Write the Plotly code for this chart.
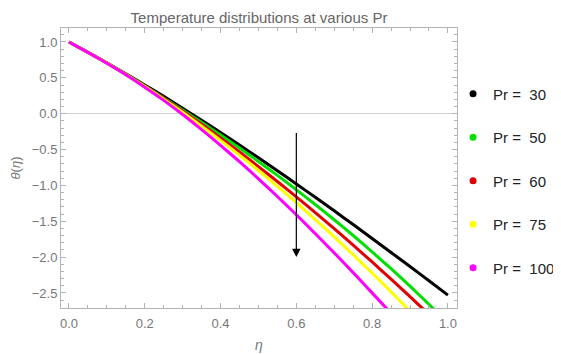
import plotly.graph_objects as go

eta = [0.0, 0.05, 0.1, 0.15, 0.2, 0.25, 0.3, 0.35, 0.4, 0.45, 0.5,
       0.55, 0.6, 0.65, 0.7, 0.75, 0.8, 0.85, 0.9, 0.95, 1.0]
pr_labels = ["Pr = \u00a030", "Pr = \u00a050", "Pr = \u00a060", "Pr = \u00a075", "Pr = \u00a0100"]
colors = ["#000000", "#00e000", "#e00000", "#ffff00", "#ff00ff"]
theta_pr30 = [1.0, 0.857, 0.710, 0.557, 0.401, 0.241, 0.077, -0.091, -0.263, -0.438, -0.615,
              -0.796, -0.980, -1.166, -1.355, -1.546, -1.740, -1.935, -2.132, -2.330, -2.530]
theta_pr50 = [1.0, 0.856, 0.706, 0.548, 0.390, 0.218, 0.051, -0.121, -0.298, -0.480, -0.667,
              -0.860, -1.060, -1.266, -1.479, -1.699, -1.927, -2.162, -2.406, -2.659, -2.920]
theta_pr60 = [1.0, 0.856, 0.706, 0.549, 0.385, 0.214, 0.036, -0.148, -0.338, -0.535, -0.738,
              -0.946, -1.160, -1.379, -1.604, -1.834, -2.068, -2.308, -2.552, -2.800, -3.052]
theta_pr75 = [1.0, 0.856, 0.705, 0.546, 0.378, 0.202, 0.019, -0.173, -0.372, -0.578, -0.792,
              -1.013, -1.241, -1.476, -1.718, -1.967, -2.222, -2.485, -2.754, -3.029, -3.310]
theta_pr100 = [1.0, 0.855, 0.703, 0.543, 0.370, 0.186, -0.012, -0.222, -0.441, -0.670, -0.908,
               -1.155, -1.410, -1.672, -1.941, -2.217, -2.499, -2.785, -3.077, -3.373, -3.673]
series = [theta_pr30, theta_pr50, theta_pr60, theta_pr75, theta_pr100]

fig = go.Figure()
for ys, col in zip(series, colors):
    fig.add_trace(go.Scatter(x=eta, y=ys, mode="lines",
                             line=dict(color=col, width=3, shape="spline", smoothing=0.6),
                             showlegend=False, hoverinfo="skip"))
for i, (col, name) in enumerate(zip(colors, pr_labels)):
    fig.add_trace(go.Scatter(x=[None], y=[None], mode="markers", marker=dict(color=col, size=7),
                             name=name, legendgroup=str(i)))

fig.add_annotation(x=0.6, y=-2.0, ax=0.6, ay=-0.25, xref="x", yref="y", axref="x", ayref="y",
                   showarrow=True, arrowhead=2, arrowsize=1.4, arrowwidth=1.2, arrowcolor="black", text="")

frame = "#b4b4b4"
# page body adds an 8px margin, so the figure is sized to fit the 561x354 window
fig.update_layout(
    width=553, height=346,
    margin=dict(l=53, r=104, t=20, b=46, autoexpand=False),
    paper_bgcolor="white", plot_bgcolor="white",
    font=dict(family="Liberation Sans, Arial, sans-serif", color="#777777", size=13),
    title=dict(text="Temperature distributions at various Pr", x=0.5, xref="paper", xanchor="center",
               y=0.9725, yref="container", yanchor="middle",
               font=dict(size=15, color="#666666")),
    legend=dict(x=0.99, xanchor="left", y=0.823, yanchor="top", tracegroupgap=21,
                font=dict(size=15, color="#222222"), itemwidth=30, bgcolor="rgba(0,0,0,0)"),
    xaxis=dict(range=[-0.021, 1.024], tickmode="linear", tick0=0, dtick=0.2, tickformat=".1f",
               automargin=False, ticklabelstandoff=3,
               showgrid=False, zeroline=False, showline=True, linecolor=frame, linewidth=1, mirror="allticks",
               ticks="inside", ticklen=5, tickcolor=frame,
               minor=dict(ticks="inside", dtick=0.05, tick0=0, ticklen=3, tickcolor=frame, showgrid=False),
               title=dict(text="<i>η</i>", standoff=10, font=dict(size=14, color="#777777"))),
    yaxis=dict(range=[-2.71, 1.195], tickmode="linear", tick0=0, dtick=0.5, tickformat=".1f",
               automargin=True,
               showgrid=False, zeroline=True, zerolinecolor="#d0d0d0", zerolinewidth=1,
               showline=True, linecolor=frame, linewidth=1, mirror="allticks",
               ticks="inside", ticklen=5, tickcolor=frame,
               minor=dict(ticks="inside", dtick=0.1, tick0=0, ticklen=3, tickcolor=frame, showgrid=False),
               title=dict(text="<i>θ</i>(<i>η</i>)", standoff=9, font=dict(size=13, color="#777777"))),
)
fig.write_html("out.html")
